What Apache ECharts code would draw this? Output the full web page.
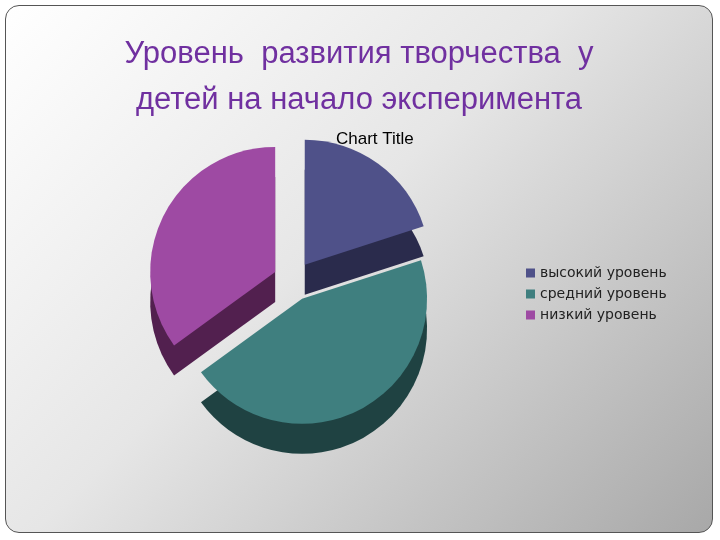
<!DOCTYPE html>
<html><head><meta charset="utf-8">
<script src="https://cdn.jsdelivr.net/npm/echarts@6/dist/echarts.min.js"></script>
<style>
html,body{margin:0;padding:0;background:#fff}
#wrap{position:absolute;left:5px;top:5px;width:706px;height:526px;border:1px solid #555;border-radius:14px;overflow:hidden;
background:linear-gradient(135deg,#ffffff 0%,#e6e6e6 45%,#a8a8a8 100%)}
#c{width:706px;height:526px}
</style></head><body>
<div id="wrap"><div id="c"></div></div>
<script>
const categories=['высокий уровень','средний уровень','низкий уровень'];
const values=[20,45,35];
const colors=['#4F5189','#3F7F7F','#9E4AA3'];
const darkColors=['#2A2B4C','#1F4242','#52204F'];
const chart=echarts.init(document.getElementById('c'));
function mk(cols){return categories.map((n,i)=>({name:n,value:values[i],selected:true,itemStyle:{color:cols[i]}}));}
const common={type:'pie',radius:[0,125],startAngle:90,selectedMode:'multiple',selectedOffset:20,
label:{show:false},labelLine:{show:false},silent:true,animation:false};
chart.setOption({
 title:[{text:'Уровень  развития творчества  у\nдетей на начало эксперимента',left:'center',top:20,
   textStyle:{color:'#7030A0',fontSize:31,fontWeight:'normal',fontFamily:'Liberation Sans',lineHeight:46}},
  {text:'Chart Title',left:325,top:120,textStyle:{color:'#000',fontSize:17,fontWeight:'normal',fontFamily:'Liberation Sans'}}],
 legend:{orient:'vertical',left:515,top:255,itemWidth:9,itemHeight:9,itemGap:7,icon:'rect',
   textStyle:{fontSize:14,color:'#222',fontFamily:'DejaVu Sans'},
   data:categories.map((n,i)=>({name:n,itemStyle:{color:colors[i]}}))},
 series:[
  Object.assign({},common,{name:'depth',center:[287,305],data:mk(darkColors)}),
  Object.assign({},common,{name:'top',center:[287,275],data:mk(colors)})
 ]
});
</script></body></html>
